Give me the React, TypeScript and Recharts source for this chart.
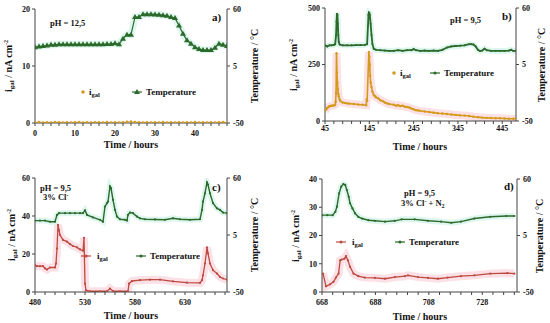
import React from "react";
import { ComposedChart, Line, XAxis, YAxis, Legend } from "recharts";

// ---- data ----
// panel a) pH 12,5 : hourly readings
const aHours = Array.from({ length: 49 }, (_, i) => i);
const aTemp = [
  23.2, 23.7, 24.3, 24.8, 25.4, 25.4, 25.9, 25.9, 25.9, 25.9, 25.9, 25.9, 25.9, 25.9, 25.9, 25.9, 25.9,
  25.9, 26.2, 26.2, 27.0, 25.9, 31.4, 35.2, 35.2, 52.3, 52.3, 55.0, 55.0, 55.0, 54.8, 54.5, 54.0, 53.4,
  52.3, 51.2, 44.0, 36.0, 29.8, 26.5, 23.2, 21.5, 20.4, 20.4, 20.4, 22.6, 26.5, 25.4, 24.3,
];
const aIgal = [
  0.1, 0.15, 0.1, 0.12, 0.1, 0.15, 0.12, 0.1, 0.14, 0.1, 0.12, 0.15, 0.1, 0.12, 0.1, 0.14, 0.12, 0.1,
  0.15, 0.1, 0.12, 0.1, 0.14, 0.2, 0.25, 0.15, 0.12, 0.1, 0.14, 0.1, 0.12, 0.1, 0.15, 0.1, 0.12, 0.1,
  0.14, 0.1, 0.12, 0.1, 0.15, 0.1, 0.12, 0.1, 0.14, 0.1, 0.12, 0.15, 0.1,
];

// panel b) pH 9,5 : [hour, value]
const bTemp: [number, number][] = [
  [45, 23.7], [50, 22.6], [55, 23.7], [60, 23.7], [65, 24.1], [68, 24.8], [70, 33.6], [71, 46.8],
  [72, 54.5], [73, 53.4], [74, 44.6], [75, 33.6], [76, 27.0], [78, 24.4], [85, 23.7], [95, 23.7],
  [105, 23.7], [115, 23.9], [125, 23.9], [135, 24.1], [140, 24.8], [142, 42.4], [143, 53.4],
  [144, 55.6], [145, 55.2], [146, 53.4], [148, 44.6], [150, 33.6], [152, 24.8], [155, 20.4],
  [160, 19.3], [170, 18.9], [180, 18.6], [190, 18.2], [200, 18.2], [210, 18.9], [220, 18.2],
  [230, 18.9], [240, 18.9], [245, 20.0], [250, 18.9], [260, 18.2], [270, 18.6], [280, 18.2],
  [290, 18.6], [300, 18.2], [310, 19.3], [320, 21.5], [330, 22.6], [340, 23.0], [350, 23.3],
  [360, 23.7], [370, 24.8], [375, 24.8], [380, 24.4], [385, 22.6], [390, 19.3], [395, 18.2],
  [400, 18.6], [405, 20.4], [410, 18.9], [420, 18.2], [430, 18.2], [440, 18.2], [450, 18.2],
  [460, 18.6], [465, 19.3], [470, 18.2], [476, 18.2],
];
const bIgal: [number, number][] = [
  [45, 45], [48, 52], [50, 58], [53, 62], [55, 65], [58, 67], [60, 68], [63, 68], [66, 70], [68, 72],
  [69, 85], [70, 125], [71, 300], [72, 215], [73, 170], [74, 140], [75, 120], [76, 110], [78, 95],
  [80, 88], [85, 82], [90, 80], [95, 78], [100, 77], [110, 75], [120, 73], [130, 72], [138, 70],
  [139, 95], [140, 88], [144, 305], [145, 285], [146, 250], [147, 200], [148, 170], [150, 150],
  [152, 130], [155, 115], [158, 110], [160, 105], [165, 100], [170, 92], [175, 88], [180, 82],
  [185, 78], [190, 75], [200, 72], [205, 68], [210, 70], [215, 66], [220, 68], [225, 63], [230, 62],
  [235, 60], [240, 55], [245, 52], [250, 48], [255, 47], [260, 45], [270, 42], [280, 40], [290, 37],
  [300, 34], [310, 33], [320, 31], [330, 29], [340, 27], [350, 25], [360, 24], [370, 22], [380, 19],
  [390, 17], [400, 15], [410, 14], [420, 13], [430, 12], [440, 12], [450, 11], [460, 10], [470, 10],
  [476, 11],
];

// panel c) pH 9,5 + 3% Cl-
const cTemp: [number, number][] = [
  [480, 18.9], [485, 18.9], [490, 18.9], [495, 17.8], [500, 17.8], [502, 24.4], [504, 26.1],
  [510, 26.1], [515, 26.1], [520, 26.1], [525, 26.1], [528, 26.1], [530, 28.7], [532, 24.4],
  [538, 22.0], [545, 19.7], [548, 17.8], [550, 32.5], [552, 35.8], [553, 37.3], [555, 51.9],
  [556, 50.3], [558, 38.9], [560, 29.2], [562, 22.8], [565, 20.2], [570, 19.7], [572, 18.9],
  [573, 24.4], [575, 26.6], [578, 26.1], [582, 22.8], [585, 21.1], [590, 20.2], [600, 20.0],
  [610, 19.7], [618, 21.1], [625, 20.2], [635, 19.7], [645, 20.2], [647, 29.2], [648, 37.3],
  [650, 45.3], [652, 55.8], [653, 53.6], [655, 45.3], [658, 35.8], [662, 30.7], [665, 29.2],
  [668, 26.6], [672, 26.1],
];
const cIgal: [number, number][] = [
  [480, 14.1], [482, 13.6], [485, 13.6], [488, 13.6], [490, 12.4], [492, 11.8], [495, 12.9],
  [500, 12.9], [501, 15], [502, 22.9], [503, 35.3], [504, 32.6], [505, 30], [508, 27.4], [512, 26.5],
  [515, 25.2], [518, 24.2], [522, 23.5], [525, 22.4], [528, 21.7], [529, 28.5], [530, 4.4],
  [531, 0.9], [535, 0.4], [545, 0.4], [552, 0.4], [555, 1.8], [558, 0.5], [565, 0.4], [573, 0.4],
  [574, 4.4], [577, 5.8], [585, 6.2], [595, 6.5], [605, 6.5], [618, 5.6], [632, 4.9], [645, 4.8],
  [647, 6.2], [648, 8.8], [650, 15], [652, 23.5], [653, 20.3], [655, 15], [658, 11.5], [662, 9.7],
  [665, 7.9], [668, 7.1], [672, 6.5],
];

// panel d) pH 9,5 + 3% Cl- + N2
const dTemp: [number, number][] = [
  [668, 24.8], [670, 24.8], [672, 24.8], [673, 28.1], [673.6, 33.1], [674.4, 46], [675.2, 52.6],
  [676, 55.1], [676.7, 54.2], [677.3, 49.3], [678, 42.7], [678.5, 36.4], [679.4, 31.4],
  [680.4, 26.5], [681.6, 23.2], [683, 21.5], [685.4, 19.9], [687.8, 19.3], [691.6, 18.5],
  [695.3, 19.3], [697.8, 20.7], [702.7, 20.7], [707.7, 19.3], [712.6, 18.5], [716.4, 17.4],
  [720, 18.5], [725, 21.5], [731, 23.2], [737, 24], [740, 24],
];
const dIgal: [number, number][] = [
  [668.4, 6.5], [669.5, 2], [671, 2.7], [672.3, 3.6], [673.2, 5.1], [674.2, 6.5], [674.8, 11.2],
  [675.4, 11.5], [676.4, 11.8], [677, 12.7], [677.7, 11.2], [678.5, 8.9], [679.8, 6.5],
  [681.6, 5.6], [684, 5.1], [687.8, 5], [691.6, 4.7], [695.3, 5.3], [699, 5.6], [700.2, 5.9],
  [704, 5.3], [707.7, 5], [711.4, 4.7], [715, 5.1], [720, 5.6], [725, 5.9], [731, 6.5],
  [737.4, 6.7], [740, 6.5],
];

const tempTicks = [-50, 5, 60];

// ---- styles ----
const FONT = "'Liberation Serif', 'Times New Roman', serif";
const AX = "#444";
const GREEN = "#2b6a2b";
const ORANGE = "#d49a1c";
const RED = "#bd4a40";
const PINK = "#fbe0e6";
const MINT = "#dff6ee";
const tickStyle = { fontSize: 8, fontWeight: 700, fill: "#111", fontFamily: FONT };

const toPts = (rows: [number, number][]) => rows.map(([t, v]) => ({ t, v }));
const zip = (xs: number[], ys: number[]) => xs.map((t, i) => ({ t, v: ys[i] }));

const triangle = (props: any) => {
  const { cx, cy, index } = props;
  return <path key={"tr" + index} d={`M${cx},${cy - 3}L${cx + 3},${cy + 2}L${cx - 3},${cy + 2}Z`} fill={GREEN} />;
};

interface PanelProps {
  x: number; y: number; w: number; h: number;
  top: number; lw: number; rw: number; xh: number; xgap: number;
  xDomain: [number, number]; xTicks: number[]; xMajor: number[];
  lDomain: [number, number]; lTicks: number[];
  children: React.ReactNode;
}

function Panel(p: PanelProps) {
  return (
    <div style={{ position: "absolute", left: p.x, top: p.y }}>
      <ComposedChart width={p.w} height={p.h} margin={{ top: p.top, right: 0, bottom: 0, left: 0 }}>
        <XAxis
          type="number" dataKey="t" domain={p.xDomain} ticks={p.xTicks} interval={0} allowDataOverflow
          height={p.xh} tickFormatter={(v: number) => (p.xMajor.includes(v) ? String(v) : "")}
          tick={tickStyle} tickSize={3} tickMargin={p.xgap} stroke={AX}
        />
        <YAxis
          yAxisId="l" type="number" domain={p.lDomain} ticks={p.lTicks} interval={0} allowDataOverflow
          width={p.lw} tick={tickStyle} tickSize={3} tickMargin={2} stroke={AX}
        />
        <YAxis
          yAxisId="r" orientation="right" type="number" domain={[-50, 60]} ticks={tempTicks} interval={0}
          allowDataOverflow width={p.rw} tick={tickStyle} tickSize={3} tickMargin={3} stroke={AX}
        />
        {p.children}
      </ComposedChart>
    </div>
  );
}

const Sub = ({ children }: { children: React.ReactNode }) => (
  <tspan fontSize={6.5} dy={2}>{children}</tspan>
);

function legendSvg(kind: "dot" | "line", tempMark: "tri" | "dot", igalColor: string, tx: number) {
  return (
    <svg width={150} height={12} style={{ overflow: "visible", fontFamily: FONT, fontWeight: 700 }}>
      {kind === "line" && <line x1={1} x2={11} y1={6} y2={6} stroke={igalColor} strokeWidth={1.2} />}
      <circle cx={6} cy={6} r={kind === "dot" ? 1.8 : 1.5} fill={igalColor} />
      <text x={kind === "dot" ? 12 : 17} y={9} fontSize={9} fill="#111">
        i<Sub>gal</Sub>
      </text>
      <line x1={tx - 14} x2={tx - 4} y1={6} y2={6} stroke={GREEN} strokeWidth={1.2} />
      {tempMark === "tri" ? (
        <path d={`M${tx - 9},3L${tx - 6},8L${tx - 12},8Z`} fill={GREEN} />
      ) : (
        <circle cx={tx - 9} cy={6} r={1.6} fill={GREEN} />
      )}
      <text x={tx} y={9} fontSize={9} fill="#111">Temperature</text>
    </svg>
  );
}

const yTitle = (x: number, y: number) => (
  <text transform={`translate(${x},${y}) rotate(-90)`} textAnchor="middle" fontSize={10}>
    i<tspan fontSize={7} dy={2}>gal</tspan>
    <tspan dy={-2}>  / nA cm</tspan>
    <tspan fontSize={6} dy={-4}>-2</tspan>
  </text>
);
const tTitle = (x: number, y: number) => (
  <text transform={`translate(${x},${y}) rotate(-90)`} textAnchor="middle" fontSize={10}>
    Temperature / °C
  </text>
);

export default function App() {
  const aT = zip(aHours, aTemp);
  const aI = zip(aHours, aIgal);
  const bT = toPts(bTemp);
  const bI = toPts(bIgal);
  const cT = toPts(cTemp);
  const cI = toPts(cIgal);
  const dT = toPts(dTemp);
  const dI = toPts(dIgal);
  const range = (a: number, b: number, s: number) => {
    const out: number[] = [];
    for (let v = a; v <= b; v += s) out.push(v);
    return out;
  };

  return (
    <div style={{ position: "absolute", left: 0, top: 0, width: 550, height: 323, background: "#fff", fontFamily: FONT }}>
      {/* a */}
      <Panel x={0} y={0} w={275} h={160} top={9} lw={35} rw={48} xh={37} xgap={4}
        xDomain={[0, 48]} xTicks={range(0, 48, 2)} xMajor={[0, 10, 20, 30, 40]}
        lDomain={[0, 20]} lTicks={[0, 10, 20]}>
        <Line yAxisId="r" data={aT} dataKey="v" stroke={MINT} strokeWidth={7} dot={false} isAnimationActive={false} legendType="none" />
        <Line yAxisId="l" data={aI} dataKey="v" stroke={ORANGE} strokeWidth={0.6} dot={{ r: 1.3, fill: ORANGE, stroke: "none" }} isAnimationActive={false} />
        <Line yAxisId="r" data={aT} dataKey="v" stroke={GREEN} strokeWidth={1.2} dot={triangle} isAnimationActive={false} />
        <Legend verticalAlign="middle" layout="horizontal" wrapperStyle={{ left: 77, top: 84, width: 150, height: 12 }}
          content={() => legendSvg("dot", "tri", ORANGE, 69)} />
      </Panel>

      {/* b */}
      <Panel x={275} y={0} w={275} h={160} top={8} lw={50} rw={34} xh={39} xgap={1}
        xDomain={[45, 476]} xTicks={range(45, 465, 20)} xMajor={[45, 145, 245, 345, 445]}
        lDomain={[0, 500]} lTicks={[0, 250, 500]}>
        <Line yAxisId="l" data={bI} dataKey="v" stroke={PINK} strokeWidth={8} dot={false} isAnimationActive={false} legendType="none" />
        <Line yAxisId="r" data={bT} dataKey="v" stroke={MINT} strokeWidth={6} dot={false} isAnimationActive={false} legendType="none" />
        <Line yAxisId="l" data={bI} dataKey="v" stroke={ORANGE} strokeWidth={1.6} dot={{ r: 1.2, fill: ORANGE, stroke: "none" }} isAnimationActive={false} />
        <Line yAxisId="r" data={bT} dataKey="v" stroke={GREEN} strokeWidth={1.8} dot={{ r: 1, fill: GREEN, stroke: "none" }} isAnimationActive={false} />
        <Legend verticalAlign="middle" layout="horizontal" wrapperStyle={{ left: 113, top: 65, width: 150, height: 12 }}
          content={() => legendSvg("dot", "dot", ORANGE, 56)} />
      </Panel>

      {/* c */}
      <Panel x={0} y={160} w={275} h={163} top={18} lw={35} rw={48} xh={31} xgap={4}
        xDomain={[480, 672]} xTicks={range(480, 670, 10)} xMajor={[480, 530, 580, 630]}
        lDomain={[0, 60]} lTicks={[0, 20, 40, 60]}>
        <Line yAxisId="l" data={cI} dataKey="v" stroke={PINK} strokeWidth={8} dot={false} isAnimationActive={false} legendType="none" />
        <Line yAxisId="r" data={cT} dataKey="v" stroke={MINT} strokeWidth={6} dot={false} isAnimationActive={false} legendType="none" />
        <Line yAxisId="l" data={cI} dataKey="v" stroke={RED} strokeWidth={1.3} dot={{ r: 1.1, fill: RED, stroke: "none" }} isAnimationActive={false} />
        <Line yAxisId="r" data={cT} dataKey="v" stroke={GREEN} strokeWidth={1.4} dot={{ r: 1.1, fill: GREEN, stroke: "none" }} isAnimationActive={false} />
        <Legend verticalAlign="middle" layout="horizontal" wrapperStyle={{ left: 80, top: 88, width: 150, height: 12 }}
          content={() => legendSvg("line", "dot", RED, 70)} />
      </Panel>

      {/* d */}
      <Panel x={275} y={160} w={275} h={163} top={19} lw={47} rw={33} xh={31} xgap={4}
        xDomain={[668, 741]} xTicks={range(668, 740, 4)} xMajor={[668, 688, 708, 728]}
        lDomain={[0, 40]} lTicks={[0, 10, 20, 30, 40]}>
        <Line yAxisId="l" data={dI} dataKey="v" stroke={PINK} strokeWidth={8} dot={false} isAnimationActive={false} legendType="none" />
        <Line yAxisId="r" data={dT} dataKey="v" stroke={MINT} strokeWidth={6} dot={false} isAnimationActive={false} legendType="none" />
        <Line yAxisId="l" data={dI} dataKey="v" stroke={RED} strokeWidth={1.3} dot={{ r: 1.1, fill: RED, stroke: "none" }} isAnimationActive={false} />
        <Line yAxisId="r" data={dT} dataKey="v" stroke={GREEN} strokeWidth={1.4} dot={{ r: 1.1, fill: GREEN, stroke: "none" }} isAnimationActive={false} />
        <Legend verticalAlign="middle" layout="horizontal" wrapperStyle={{ left: 60, top: 74, width: 150, height: 12 }}
          content={() => legendSvg("line", "dot", RED, 74)} />
      </Panel>

      {/* titles and notes */}
      <svg width={550} height={323} style={{ position: "absolute", left: 0, top: 0, pointerEvents: "none" }}
        fontFamily={FONT} fontWeight={700} fill="#111">
        {yTitle(12, 66)}
        {tTitle(258, 66)}
        <text x={131} y={148} textAnchor="middle" fontSize={10}>Time / hours</text>
        <text x={50} y={26} fontSize={8.5}>pH = 12,5</text>
        <text x={212} y={21} fontSize={11}>a)</text>

        {yTitle(297, 65)}
        {tTitle(545, 65)}
        <text x={420} y={150} textAnchor="middle" fontSize={10}>Time / hours</text>
        <text x={450} y={23} fontSize={8.5}>pH = 9,5</text>
        <text x={502} y={20} fontSize={11}>b)</text>

        {yTitle(15, 235)}
        {tTitle(258, 235)}
        <text x={131} y={319} textAnchor="middle" fontSize={10}>Time / hours</text>
        <text x={40} y={191} fontSize={8.5}>pH = 9,5</text>
        <text x={43} y={200} fontSize={8.5}>3% Cl<tspan fontSize={6} dy={-3}>-</tspan></text>
        <text x={212} y={191} fontSize={11}>c)</text>

        {yTitle(299, 236)}
        {tTitle(543, 236)}
        <text x={420} y={320} textAnchor="middle" fontSize={10}>Time / hours</text>
        <text x={404} y={196} fontSize={8.5}>pH = 9,5</text>
        <text x={401} y={206} fontSize={8.5}>
          3% Cl<tspan fontSize={6} dy={-3}>-</tspan><tspan dy={3}> + N</tspan><tspan fontSize={6} dy={2}>2</tspan>
        </text>
        <text x={504} y={190} fontSize={11}>d)</text>
      </svg>
    </div>
  );
}
